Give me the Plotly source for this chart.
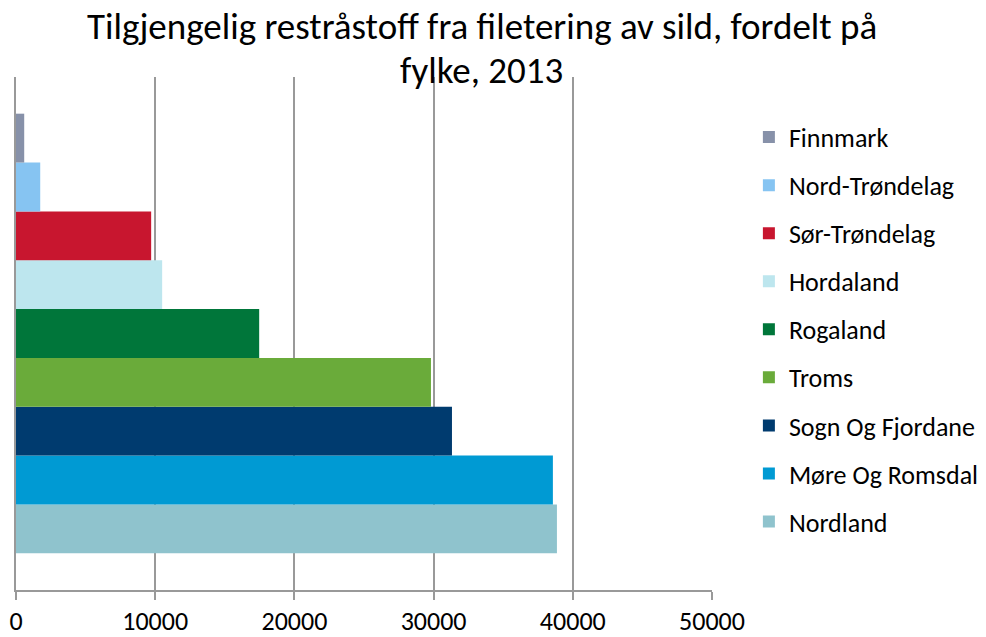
import plotly.graph_objects as go

counties = ["Nordland", "Møre Og Romsdal", "Sogn Og Fjordane", "Troms", "Rogaland",
            "Hordaland", "Sør-Trøndelag", "Nord-Trøndelag", "Finnmark"]
values = [38860, 38570, 31320, 29810, 17470, 10500, 9710, 1740, 590]
colors = ["#8FC3CD", "#009AD3", "#003B6F", "#6AAB3A", "#00763A",
          "#BDE6EE", "#C8162F", "#86C4F2", "#8791A9"]
x_ticks = [0, 10000, 20000, 30000, 40000, 50000]
title_lines = ["Tilgjengelig restråstoff fra filetering av sild, fordelt på", "fylke, 2013"]

font_family = "Carlito, Calibri, Lato, sans-serif"

fig = go.Figure()
n = len(counties)
for i, (name, v, c) in enumerate(zip(counties, values, colors)):
    fig.add_trace(go.Bar(y=[""], x=[v], name=name, orientation="h",
                         marker=dict(color=c, line=dict(width=0)),
                         legendgroup=name, legendrank=n - i))

for line, ypos in zip(title_lines, [1.0994, 1.0136]):
    fig.add_annotation(text=line, xref="paper", yref="paper",
                       x=0.669, y=ypos, xanchor="center", yanchor="middle",
                       showarrow=False, align="center",
                       font=dict(size=37, family=font_family, color="#000000"))

fig.update_layout(
    width=986, height=637,
    barmode="group", bargap=0.143, bargroupgap=0,
    paper_bgcolor="white", plot_bgcolor="white",
    margin=dict(l=16, r=274, t=77, b=47, autoexpand=False),
    font=dict(family=font_family, size=26, color="#000000"),
    showlegend=True,
    legend=dict(traceorder="grouped", x=1.053, xanchor="left", y=0.9285, yanchor="top",
                font=dict(size=26), tracegroupgap=11.25, itemwidth=30,
                bgcolor="rgba(0,0,0,0)"),
    xaxis=dict(range=[0, 50000], tickvals=x_ticks, ticktext=[str(t) for t in x_ticks],
               showgrid=True, gridcolor="#999999", gridwidth=2,
               showline=True, linecolor="#999999", linewidth=2,
               ticks="outside", ticklen=8, tickcolor="#999999", tickwidth=2,
               zeroline=False, tickfont=dict(size=26), ticklabelstandoff=-1,
               automargin=False),
    yaxis=dict(showticklabels=False, showgrid=False, zeroline=False,
               showline=True, linecolor="#999999", linewidth=2, automargin=False),
)
fig.write_html("out.html", config={"displayModeBar": False},
               post_script="document.body.style.margin='0';")
